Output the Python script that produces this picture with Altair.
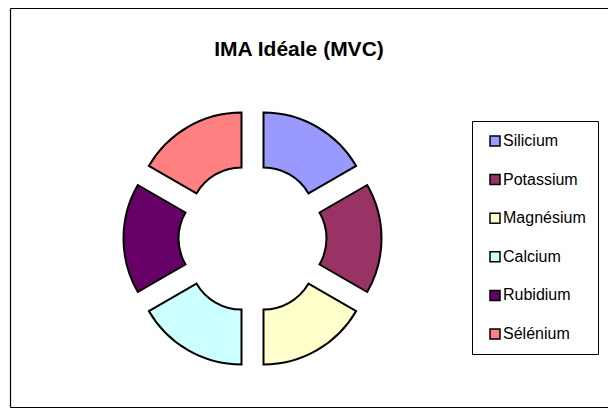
import altair as alt
import pandas as pd

names = ["Silicium", "Potassium", "Magnésium", "Calcium", "Rubidium", "Sélénium"]
values = [1, 1, 1, 1, 1, 1]
colors = ["#9999FF", "#993366", "#FFFFCC", "#CCFFFF", "#660066", "#FF8080"]

df = pd.DataFrame({"name": names, "value": values, "order": list(range(len(names)))})

CX, CY = 244.5, 230.5
EXPLODE = 22
R_OUT, R_IN = 107, 52
FONT = "Liberation Sans"
W, H = 600, 400

frame_df = pd.DataFrame({"k": [0]})
frame_base = alt.Chart(frame_df).mark_rule(color="black", strokeWidth=1.2)
top_rule = frame_base.encode(x=alt.value(2.5), x2=alt.value(W + 20), y=alt.value(0.5))
bottom_rule = frame_base.encode(x=alt.value(2.5), x2=alt.value(W + 20), y=alt.value(H - 0.5))
left_rule = frame_base.encode(x=alt.value(2.5), y=alt.value(0.5), y2=alt.value(H - 0.5))

donut = (
    alt.Chart(df)
    .transform_joinaggregate(total="sum(value)")
    .transform_window(cum="sum(value)", sort=[alt.SortField("order")], frame=[None, 0])
    .transform_calculate(
        t1="datum.cum / datum.total * 2 * PI",
        t0="(datum.cum - datum.value) / datum.total * 2 * PI",
    )
    .transform_calculate(mid="(datum.t0 + datum.t1) / 2")
    .transform_calculate(
        px=f"{CX} + {EXPLODE} * sin(datum.mid)",
        py=f"{CY} - {EXPLODE} * cos(datum.mid)",
    )
    .mark_arc(radius=R_OUT, radius2=R_IN, stroke="black", strokeWidth=2, strokeJoin="miter")
    .encode(
        x=alt.X("px:Q", scale=None, axis=None),
        y=alt.Y("py:Q", scale=None, axis=None),
        theta=alt.Theta("t0:Q", scale=None),
        theta2="t1:Q",
        color=alt.Color(
            "name:N",
            scale=alt.Scale(domain=names, range=colors),
            sort=names,
            legend=alt.Legend(
                title=None,
                orient="none",
                legendX=464,
                legendY=113,
                strokeColor="black",
                fillColor="white",
                padding=12,
                symbolType="square",
                symbolSize=100,
                symbolStrokeColor="black",
                symbolStrokeWidth=1.5,
                symbolOffset=3,
                labelFont=FONT,
                labelFontSize=16,
                labelColor="black",
                labelOffset=0,
                rowPadding=22.6,
            ),
        ),
    )
)

chart = (
    alt.layer(top_rule, bottom_rule, left_rule, donut)
    .properties(
        width=W,
        height=H,
        autosize=alt.AutoSizeParams(type="none"),
        padding=0,
        title=alt.TitleParams(
            "IMA Idéale (MVC)",
            font=FONT,
            fontSize=21,
            fontWeight="bold",
            color="black",
            anchor="middle",
            frame="group",
            offset=-52,
            dx=-9,
        ),
    )
    .configure_view(stroke="transparent", strokeWidth=0)
)

chart.save("out.html", embed_options={"renderer": "svg", "actions": False})
